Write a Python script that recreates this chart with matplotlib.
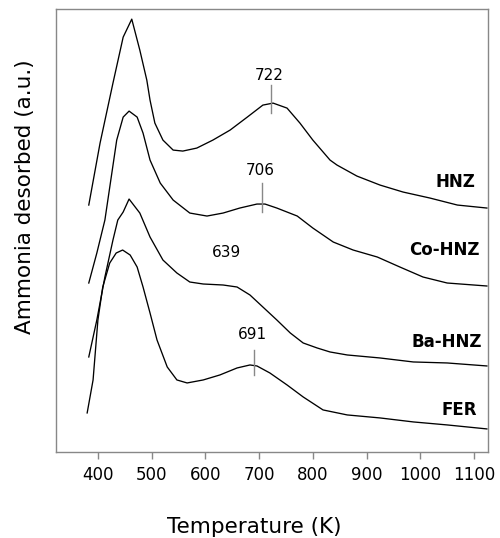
import numpy as np
import matplotlib
matplotlib.use("Agg")
import matplotlib.pyplot as plt

# curvas TPD (T en K, senal en u.a. con desplazamiento)
t_hnz = [383, 404, 428, 447, 463, 478, 491, 497, 506, 521, 540, 558, 584, 614, 646,
         678, 707, 726, 752, 776, 800, 832, 845, 882, 925, 968, 1018, 1069, 1124]
s_hnz = [247, 309, 369, 415, 433, 402, 372, 352, 329, 312, 302, 301, 304, 312, 322,
         335, 347, 349, 344, 329, 312, 292, 287, 276, 267, 260, 254, 247, 244]

t_co = [383, 398, 413, 424, 435, 447, 458, 473, 484, 497, 516, 540, 571, 603, 633,
        664, 696, 711, 733, 771, 800, 838, 875, 920, 962, 1005, 1050, 1124]
s_co = [169, 199, 232, 272, 312, 335, 341, 335, 319, 292, 269, 252, 239, 236, 239,
        244, 248, 248, 244, 236, 224, 210, 202, 195, 185, 175, 169, 166]

t_ba = [383, 398, 413, 428, 437, 447, 458, 478, 497, 521, 547, 571, 596, 633, 659,
        683, 707, 733, 758, 782, 808, 832, 864, 925, 987, 1050, 1124]
s_ba = [95, 132, 175, 212, 232, 240, 253, 239, 215, 192, 179, 170, 168, 167, 165,
        157, 145, 132, 119, 109, 104, 100, 97, 94, 90, 89, 86]

t_fer = [380, 391, 400, 409, 422, 434, 446, 460, 473, 484, 497, 510, 529, 547, 566,
         596, 627, 659, 683, 696, 720, 752, 782, 819, 864, 925, 987, 1050, 1124]
s_fer = [39, 72, 132, 165, 189, 199, 202, 197, 185, 165, 139, 112, 85, 72, 69,
         72, 77, 84, 87, 86, 79, 67, 55, 42, 37, 34, 30, 27, 23]

nombres = ["HNZ", "Co-HNZ", "Ba-HNZ", "FER"]
nombre_pos = [(1102, 270), (1111, 202), (1115, 110), (1106, 42)]

# picos marcados: (T del pico, inicio linea, fin linea, altura texto)
picos = [(722, 339, 367, 377), (706, 240, 269, 282), (691, 77, 102, 117)]
hombro = (639, 200)

xticks = [400, 500, 600, 700, 800, 900, 1000, 1100]

fig = plt.figure(figsize=(5.0, 5.38), dpi=100)
ax = fig.add_axes([0.112, 0.160, 0.864, 0.823])

for t, s in [(t_hnz, s_hnz), (t_co, s_co), (t_ba, s_ba), (t_fer, s_fer)]:
    ax.plot(t, s, color="black", lw=0.95, solid_joinstyle="round")

for n, (x, y) in zip(nombres, nombre_pos):
    ax.text(x, y, n, ha="right", va="center", fontsize=12, fontweight="bold")

gris = "#888888"
for tp, y0, y1, yt in picos:
    ax.plot([tp, tp], [y0, y1], color=gris, lw=1.0)
    ax.text(tp - 4, yt, str(tp), ha="center", va="center", fontsize=11)
ax.text(hombro[0], hombro[1], str(hombro[0]), ha="center", va="center", fontsize=11)

ax.set_xlim(322, 1126)
ax.set_ylim(0, 443)
ax.set_xticks(xticks)
ax.set_yticks([])
ax.tick_params(axis="x", direction="out", length=5, width=1, color=gris,
               labelsize=12, pad=5)
for sp in ax.spines.values():
    sp.set_color(gris)
    sp.set_linewidth(1.0)

fig.text(254 / 500, 1 - 527 / 538, "Temperature (K)", ha="center", va="center", fontsize=15.5)
fig.text(25 / 500, 1 - 197 / 538, "Ammonia desorbed (a.u.)", ha="center", va="center",
         rotation=90, fontsize=15.5)

plt.savefig("out.png", dpi=100)
